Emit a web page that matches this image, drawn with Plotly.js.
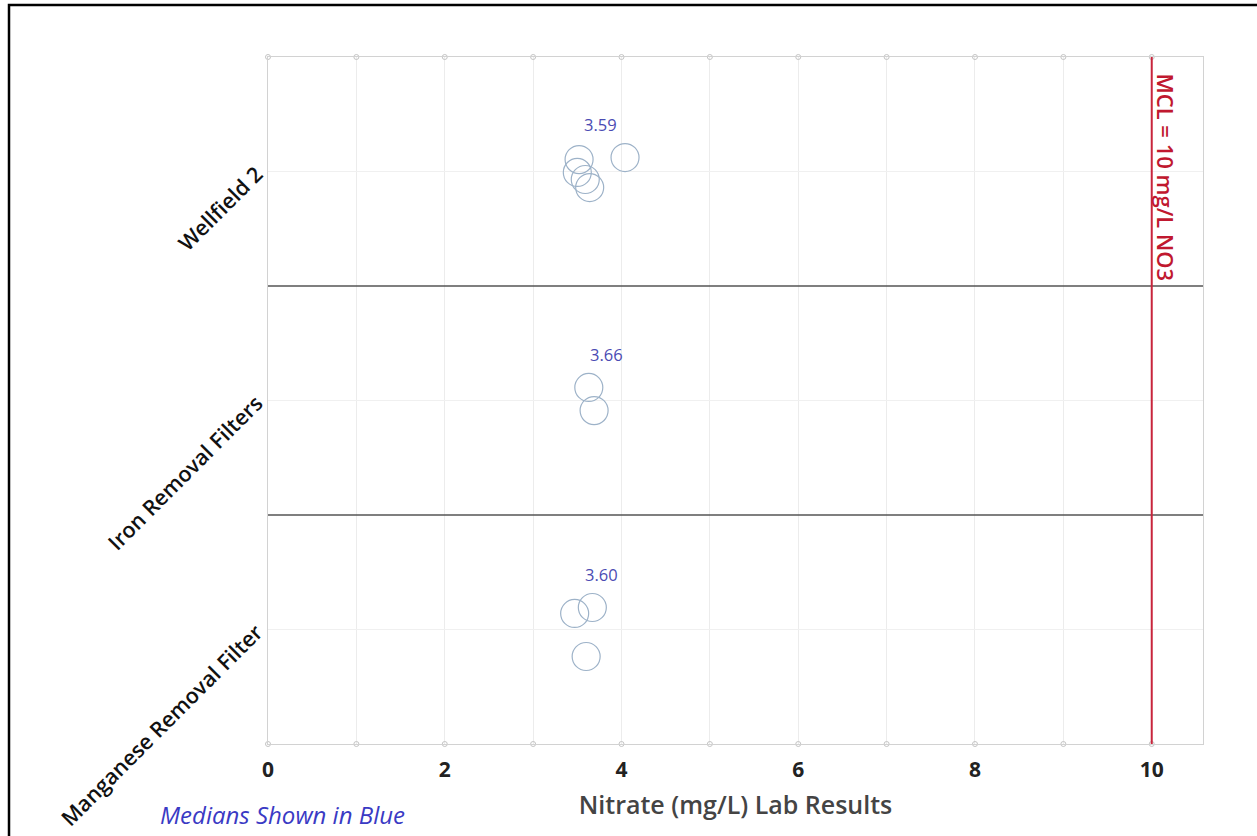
<!DOCTYPE html>
<html>
<head>
<meta charset="utf-8">
<script src="https://cdn.plot.ly/plotly-3.0.1.min.js"></script>
<style>
  html, body { margin: 0; padding: 0; background: #fff; overflow: hidden; }
  #chart { width: 1257px; height: 836px; }
</style>
</head>
<body>
<div id="chart"></div>
<script>
// ---- data ----
const categories = ["Manganese Removal Filter", "Iron Removal Filters", "Wellfield 2"];

const wellfieldValues = [3.52, 3.50, 3.59, 3.64, 4.04];
const wellfieldJitter = [0.052, -0.004, -0.035, -0.070, 0.061];

const ironValues = [3.63, 3.69];
const ironJitter = [0.057, -0.044];

const manganeseValues = [3.47, 3.67, 3.60];
const manganeseJitter = [0.070, 0.096, -0.118];

const medianLabels = ["3.60", "3.66", "3.59"]; // Manganese, Iron, Wellfield
const mclValue = 10;
const mclLabel = "MCL = 10 mg/L NO3";
const xTickVals = [0, 2, 4, 6, 8, 10];
const xMinorTicks = [0, 1, 2, 3, 4, 5, 6, 7, 8, 9, 10];
const xTitle = "Nitrate (mg/L) Lab Results";
const noteText = "Medians Shown in Blue";

// ---- build traces ----
const groups = [
  { vals: manganeseValues, jit: manganeseJitter },
  { vals: ironValues, jit: ironJitter },
  { vals: wellfieldValues, jit: wellfieldJitter }
];

const traces = [];
const annotations = [];
groups.forEach((g, i) => {
  const ys = g.jit.map(j => i + j);
  traces.push({
    type: "scatter", mode: "markers",
    x: g.vals, y: ys,
    marker: { symbol: "circle", size: 28, color: "rgba(0,0,0,0)",
              line: { color: "#9db2c8", width: 1.2 } },
    hoverinfo: "x", showlegend: false
  });
  const sorted = g.vals.slice().sort((a, b) => a - b);
  const n = sorted.length;
  const med = n % 2 ? sorted[(n - 1) / 2] : (sorted[n / 2 - 1] + sorted[n / 2]) / 2;
  annotations.push({
    x: med, y: Math.max(...ys), xref: "x", yref: "y",
    text: medianLabels[i], showarrow: false,
    xshift: 15, yshift: 33,
    font: { family: "Open Sans, sans-serif", size: 16.5, color: "#4b4bb3" }
  });
});

// small open circles at tick positions along top and bottom axis lines
traces.push({
  type: "scatter", mode: "markers",
  x: xMinorTicks.concat(xMinorTicks),
  y: xMinorTicks.map(() => -0.5).concat(xMinorTicks.map(() => 2.5)),
  marker: { symbol: "circle-open", size: 5, color: "#c4c4c4", line: { width: 1 } },
  cliponaxis: false, hoverinfo: "skip", showlegend: false
});

annotations.push({
  x: mclValue, xref: "x", y: 0.825, yref: "paper",
  xanchor: "center", yanchor: "middle",
  text: mclLabel, textangle: 90, showarrow: false, xshift: 14,
  font: { family: "Open Sans, sans-serif", size: 22, color: "#c0182f", weight: 600 }
});
annotations.push({
  x: 0.016, xref: "paper", y: -0.103, yref: "paper",
  text: "<i>" + noteText + "</i>", showarrow: false,
  xanchor: "center", yanchor: "middle",
  font: { family: "Open Sans, sans-serif", size: 24, color: "#3a3ac4" }
});

const shapes = [
  { type: "line", xref: "paper", x0: 0, x1: 1, yref: "y", y0: 0.5, y1: 0.5,
    line: { color: "#555", width: 1.6 } },
  { type: "line", xref: "paper", x0: 0, x1: 1, yref: "y", y0: 1.5, y1: 1.5,
    line: { color: "#555", width: 1.6 } },
  { type: "line", xref: "x", x0: mclValue, x1: mclValue, yref: "paper", y0: 0, y1: 1,
    line: { color: "#c8253c", width: 2 } },
  // outer frame (partly cropped in the reference)
  { type: "rect", xref: "paper", yref: "paper", x0: -0.277, x1: 1.2, y0: -0.3, y1: 1.0757,
    line: { color: "#000", width: 2.5 }, layer: "below" }
];

const layout = {
  width: 1257, height: 836,
  margin: { l: 268, r: 54, t: 57, b: 92 },
  paper_bgcolor: "#fff", plot_bgcolor: "#fff",
  font: { family: "Open Sans, sans-serif", color: "#222" },
  xaxis: {
    range: [0, 10.58], tickvals: xTickVals, ticks: "", ticklabelstandoff: 7,
    showgrid: true, gridcolor: "#ececec", gridwidth: 1,
    minor: { dtick: 1, showgrid: true, gridcolor: "#ececec", ticks: "" },
    zeroline: false, showline: true, mirror: true, linecolor: "#d2d2d2", linewidth: 1.2,
    tickfont: { size: 21, color: "#222", weight: 700 },
    title: { text: xTitle, standoff: 14,
             font: { size: 25, color: "#444", weight: 600 } },
    fixedrange: true
  },
  yaxis: {
    range: [-0.5, 2.5], tickvals: [0, 1, 2], ticktext: categories,
    tickangle: -45, ticks: "", ticklen: 0, ticklabelstandoff: 6,
    showgrid: true, gridcolor: "#f0f0f0", zeroline: false,
    showline: true, mirror: true, linecolor: "#d2d2d2", linewidth: 1.2,
    tickfont: { size: 21.5, color: "#111", weight: 600 },
    fixedrange: true
  },
  shapes: shapes,
  annotations: annotations,
  showlegend: false
};

Plotly.newPlot("chart", traces, layout, { displayModeBar: false, staticPlot: true });
</script>
</body>
</html>
